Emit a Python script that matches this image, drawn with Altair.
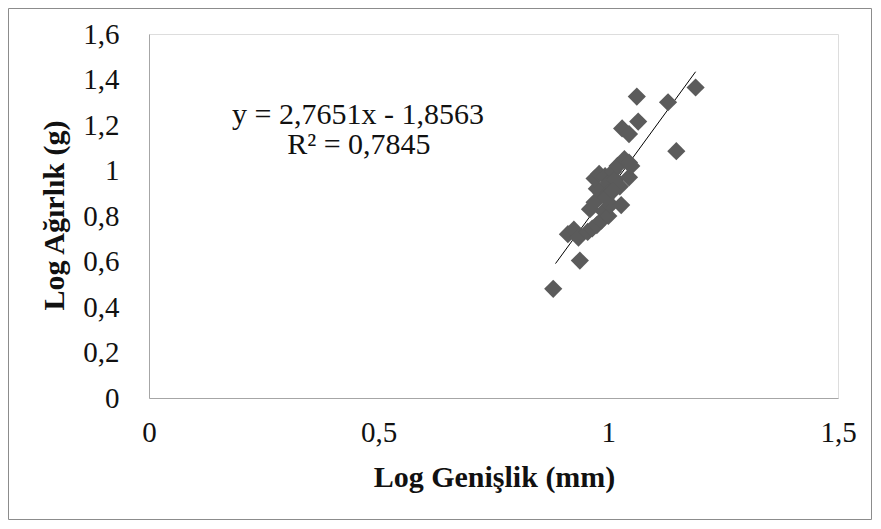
import altair as alt
import pandas as pd

# Data
log_width = [0.880, 0.938, 0.912, 0.925, 0.935, 0.955, 0.965, 0.975, 0.985, 0.960,
             0.970, 0.990, 1.000, 1.005, 1.028, 0.985, 0.975, 0.970, 0.980, 0.993,
             1.000, 1.010, 1.015, 1.020, 1.025, 1.035, 1.045, 1.045, 1.050, 1.000,
             0.995, 1.030, 1.045, 1.065, 1.062, 1.130, 1.190, 1.148, 1.010]
log_weight = [0.480, 0.604, 0.720, 0.740, 0.705, 0.730, 0.745, 0.760, 0.780, 0.830,
              0.860, 0.820, 0.800, 0.850, 0.848, 0.900, 0.920, 0.965, 0.985, 0.975,
              0.945, 0.995, 0.960, 1.020, 0.930, 1.050, 1.035, 0.970, 1.020, 0.900,
              0.880, 1.185, 1.160, 1.215, 1.325, 1.300, 1.365, 1.085, 0.910]

slope = 2.7651
intercept = -1.8563
trend_x = [0.885, 1.19]
eq_lines = ["y = 2,7651x - 1,8563", "R² = 0,7845"]
eq_x = [0.455, 0.457]
eq_y = [1.203, 1.071]

x_ticks = [0, 0.5, 1, 1.5]
y_ticks = [0, 0.2, 0.4, 0.6, 0.8, 1.0, 1.2, 1.4, 1.6]

pts = pd.DataFrame({"x": log_width, "y": log_weight})
trend = pd.DataFrame({"x": trend_x, "y": [slope * v + intercept for v in trend_x]})
eq = pd.DataFrame({"x": eq_x, "y": eq_y, "t": eq_lines})

FONT = "Liberation Serif"
W, H = 689, 364
PAD = {"left": 141, "top": 26, "right": 35, "bottom": 123}

xs = alt.Scale(domain=[0, 1.5], nice=False)
ys = alt.Scale(domain=[0, 1.6], nice=False)

LBL = 29
TTL = 30

xaxis = alt.Axis(values=x_ticks, labelExpr="replace(format(datum.value, '~g'), '.', ',')",
                 title="Log Genişlik (mm)", grid=False, ticks=False, labelFlush=False,
                 labelOverlap=False,
                 domainColor="#a6a6a6", labelFont=FONT, labelFontSize=LBL,
                 labelColor="#111111", labelPadding=20, titleFont=FONT,
                 titleFontSize=TTL, titleFontWeight="bold", titleColor="#111111",
                 titleX=345, titleY=64, titleAlign="center", titleBaseline="top")
yaxis = alt.Axis(values=y_ticks, labelExpr="replace(format(datum.value, '~g'), '.', ',')",
                 title="Log Ağırlık (g)", grid=False, ticks=False, labelFlush=False,
                 labelOverlap=False,
                 domainColor="#a6a6a6", labelFont=FONT, labelFontSize=LBL,
                 labelColor="#111111", labelPadding=30, titleFont=FONT,
                 titleFontSize=TTL, titleFontWeight="bold", titleColor="#111111",
                 titleX=-80, titleY=181, titleAngle=270, titleAlign="center",
                 titleBaseline="bottom")

points = alt.Chart(pts).mark_point(shape="diamond", filled=True, size=330,
                                   color="#5b5b5b", opacity=1).encode(
    x=alt.X("x:Q", scale=xs, axis=xaxis),
    y=alt.Y("y:Q", scale=ys, axis=yaxis),
)

line = alt.Chart(trend).mark_line(color="#000000", strokeWidth=1).encode(
    x=alt.X("x:Q", scale=xs), y=alt.Y("y:Q", scale=ys)
)

text = alt.Chart(eq).mark_text(font=FONT, fontSize=TTL, color="#111111",
                               align="center", baseline="alphabetic").encode(
    x=alt.X("x:Q", scale=xs), y=alt.Y("y:Q", scale=ys), text="t:N"
)

border = alt.Chart(pd.DataFrame({"a": [0]})).mark_rect(
    fill=None, stroke="#8c8c8c", strokeWidth=1
).encode(
    x=alt.value(-140.5), x2=alt.value(W + PAD["right"] - 1.5),
    y=alt.value(-25.5), y2=alt.value(H + PAD["bottom"] - 1.5)
)

chart = alt.layer(border, line, points, text).properties(
    width=W, height=H,
    autosize=alt.AutoSizeParams(type="none"),
    padding=PAD,
).configure_view(stroke=None).configure(background="#ffffff")

chart.save("out.html", embed_options={"renderer": "svg", "actions": False})
